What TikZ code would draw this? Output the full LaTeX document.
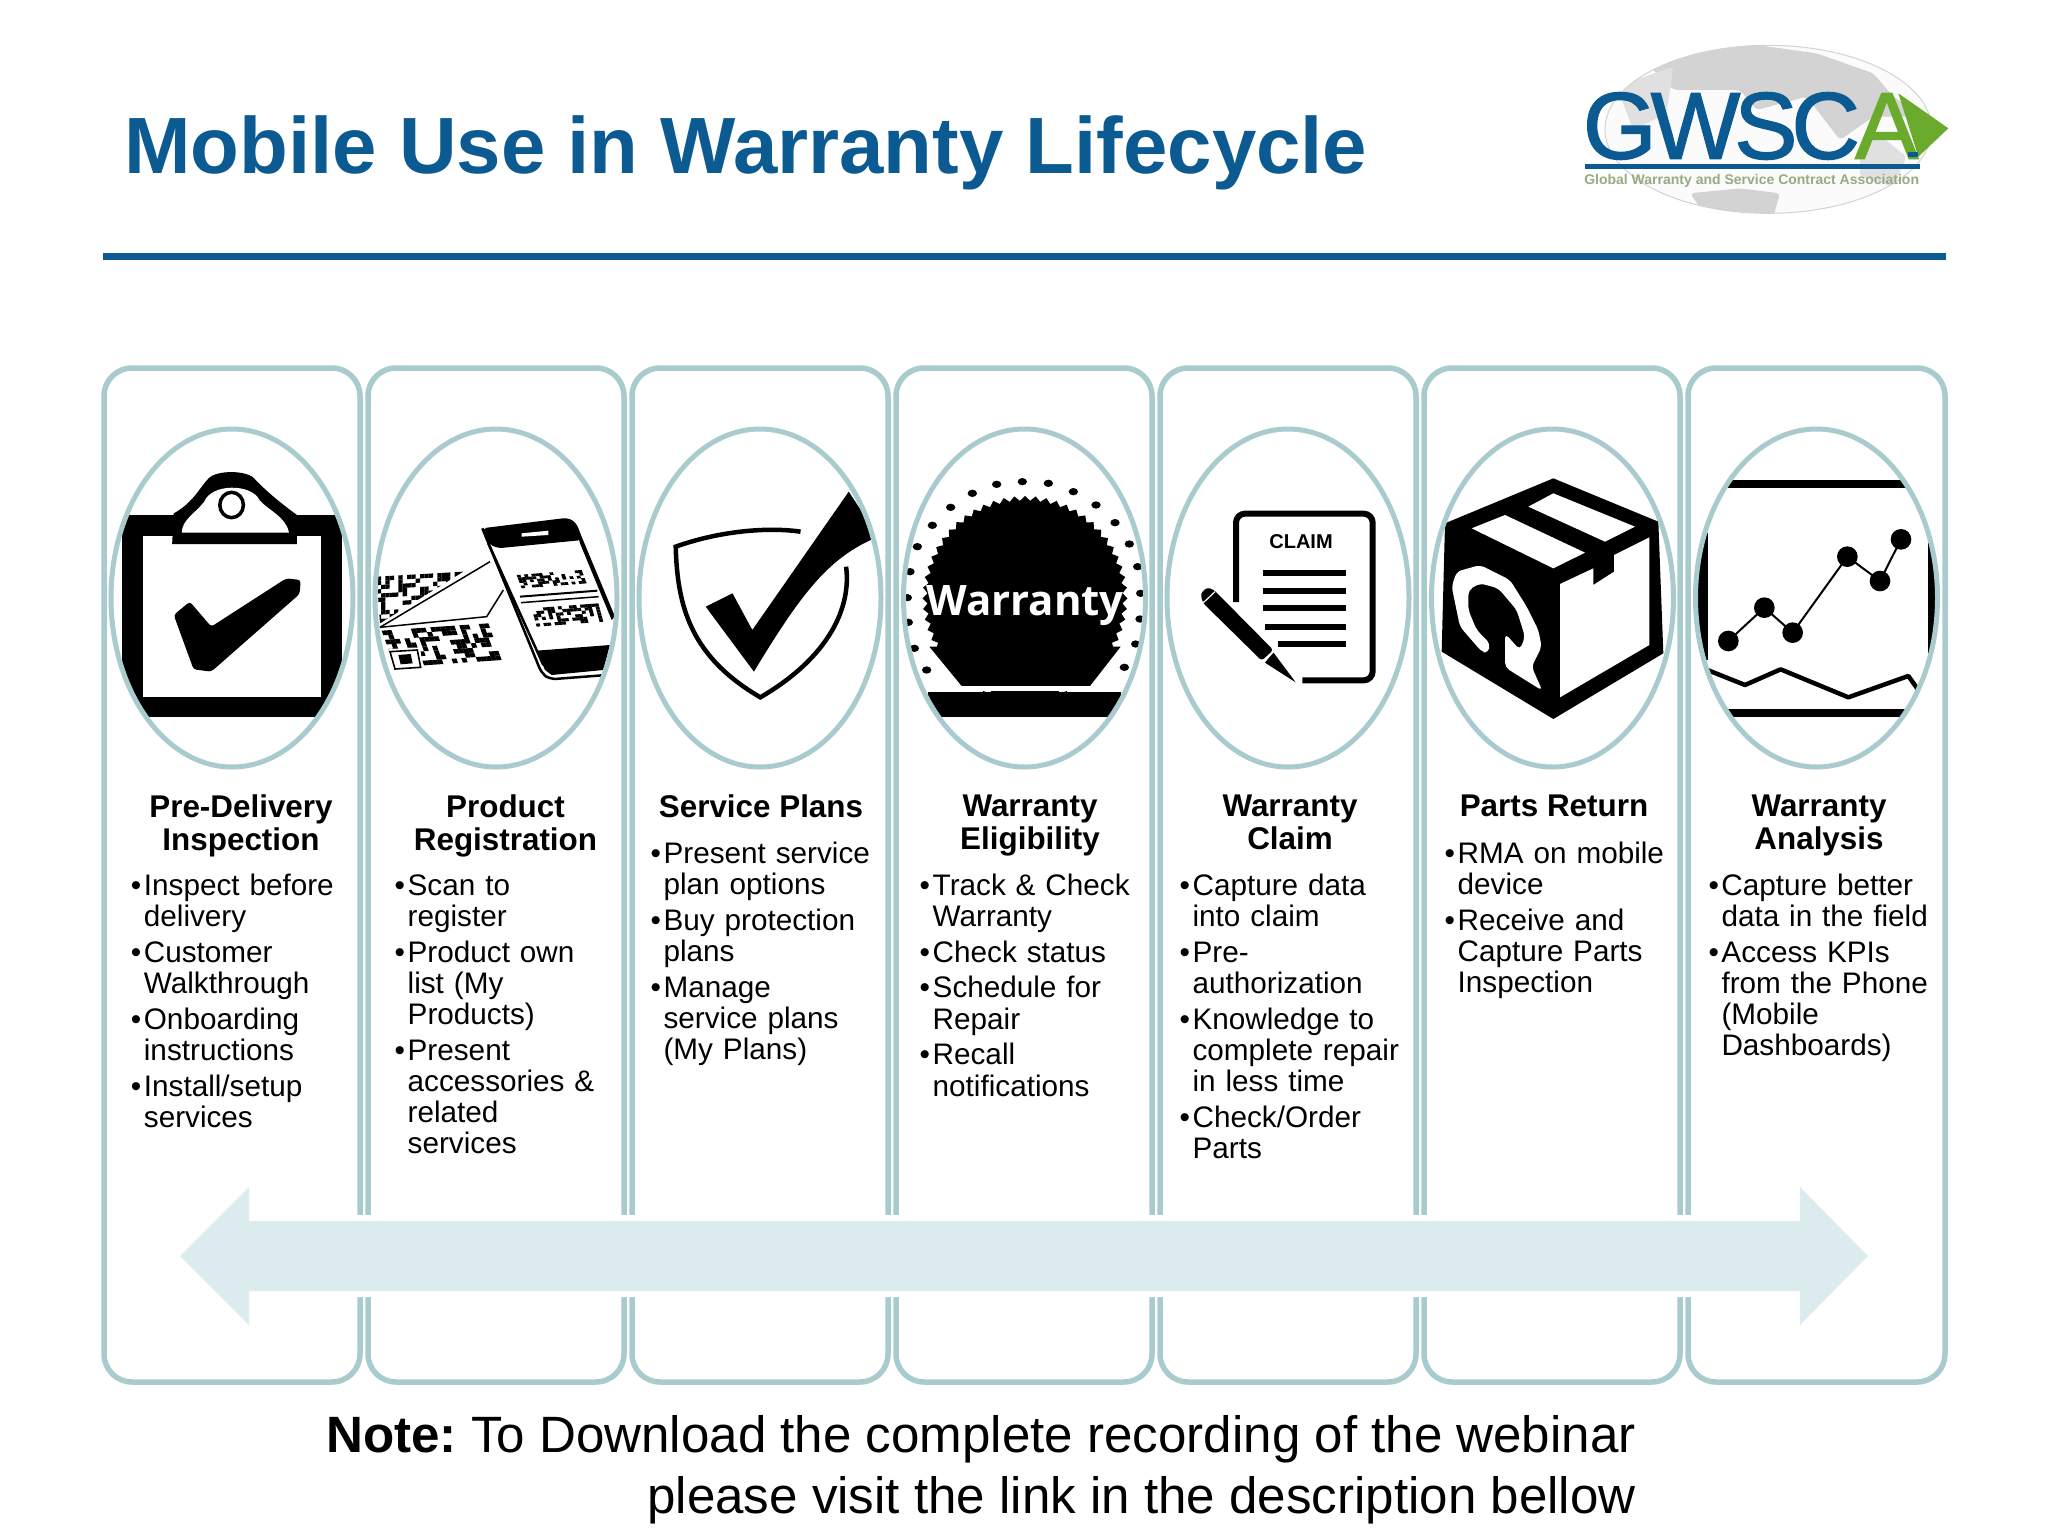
\documentclass[tikz,border=0pt]{standalone}
\usepackage{fontspec}
\usepackage{xcolor}
\usepackage{tikz}
\usetikzlibrary{shapes.geometric}
\setmainfont{Liberation Sans}
\newfontfamily\sealfont{Open Sans}
\newfontfamily\logofont[FakeBold=1.4,LetterSpace=-6.5]{Liberation Sans}

\definecolor{rimteal}{HTML}{A9CBCE}
\definecolor{bandteal}{HTML}{DCECEE}
\definecolor{titleblue}{HTML}{0B5A91}
\definecolor{logogreen}{HTML}{6AAB2E}
\definecolor{logogrey}{HTML}{D3D3D3}

\tikzset{
  colbox/.style={draw=rimteal,line width=5.5pt,rounded corners=28pt},
  oval/.style={draw=rimteal,line width=5pt},
  colhead/.style={inner sep=0pt,anchor=north,align=center,font=\fontsize{31.4}{33}\selectfont\bfseries},
  colbody/.style={inner sep=0pt,anchor=north west,text width=250pt,align=left,
    font=\fontsize{29.7}{31.2}\selectfont\setlength{\parskip}{4.6pt}},
  zoomed/.style={x=0.33333pt,y=-0.33333pt},
  widezoomed/.style={x=0.5357pt,y=-0.33333pt},
  paperline/.style={line width=6pt},
}
\newcommand{\bul}{\par\hangindent=13pt\hangafter=1\noindent\makebox[13pt][l]{\textbullet}}
% little squares of a scanned code, on a slanted patch
\newcommand{\qrpatch}[8]{%
  \foreach \ci in {1,...,#7} \foreach \cj in {1,...,#8} {
    \pgfmathtruncatemacro\cellon{rnd>0.48}
    \ifnum\cellon=1
      \fill ({#1+(\ci-1)/#7*#3+(\cj-1)/#8*#5},{#2+(\ci-1)/#7*#4+(\cj-1)/#8*#6})
        -- ({#1+\ci/#7*#3+(\cj-1)/#8*#5},{#2+\ci/#7*#4+(\cj-1)/#8*#6})
        -- ({#1+\ci/#7*#3+\cj/#8*#5},{#2+\ci/#7*#4+\cj/#8*#6})
        -- ({#1+(\ci-1)/#7*#3+\cj/#8*#5},{#2+(\ci-1)/#7*#4+\cj/#8*#6}) -- cycle;
    \fi
  }%
}

\begin{document}
\begin{tikzpicture}[x=1pt,y=-1pt]
\useasboundingbox (0,0) rectangle (2048,1536);
\fill [white] (0,0) rectangle (2048,1536);

% header
\node (title) [inner sep=0pt,anchor=base west,text=titleblue,font=\fontsize{79.8}{80}\selectfont\bfseries] at (124,174) {Mobile Use in Warranty Lifecycle};
\fill [titleblue] (103,253) rectangle (1946,259.5);

% logo
\begin{scope}[shift={(1540,30)},zoomed]
\fill [white!90!logogrey] (685,298) ellipse [x radius=490,y radius=252];
\begin{scope}
\clip (685,298) ellipse [x radius=490,y radius=252];
\fill [logogrey,rounded corners=4pt] (330,110) -- (450,60) -- (650,45) -- (830,70) -- (1000,130) -- (1060,200) -- (1150,260) -- (1000,260) -- (900,330) -- (800,200) -- (650,240) -- (600,180) -- (400,180) -- cycle;
\fill [logogrey,rounded corners=4pt] (450,490) -- (600,475) -- (720,490) -- (700,560) -- (500,560) -- cycle;
\fill [logogrey!70,rounded corners=4pt] (1000,300) -- (1100,380) -- (1060,470) -- (960,440) -- (960,360) -- cycle;
\fill [logogrey!70,rounded corners=4pt] (230,170) -- (400,110) -- (380,250) -- (280,300) -- cycle;
\end{scope}
\draw [logogrey,line width=1pt] (685,298) ellipse [x radius=490,y radius=252];
\node (logoname) [inner sep=0pt,anchor=west,text=titleblue,font=\fontsize{95}{95}\selectfont\logofont] at (128,288) {GWSC};
\fill [logogreen] (1075,190) -- (1225,295) -- (1135,380) -- cycle;
\node (logoa) [inner sep=0pt,anchor=center,text=logogreen,font=\fontsize{95}{95}\selectfont\logofont] at (1040,288) {A};
\fill [titleblue] (1105,365) rectangle (1135,382);
\fill [titleblue] (135,403) rectangle (1140,418);
\node (logotag) [inner sep=0pt,anchor=center,text=logogreen!60!black!55!white,font=\fontsize{14}{14}\selectfont\bfseries] at (635,452) {Global Warranty and Service Contract Association};
\end{scope}

% columns
\draw [colbox] (104,368) rectangle (360,1382);
\draw [colbox] (368,368) rectangle (624,1382);
\draw [colbox] (632,368) rectangle (888,1382);
\draw [colbox] (896,368) rectangle (1152,1382);
\draw [colbox] (1160,368) rectangle (1416,1382);
\draw [colbox] (1424,368) rectangle (1680,1382);
\draw [colbox] (1688,368) rectangle (1945,1382);

% band across the columns
\fill [bandteal,preaction={draw=white,line width=12pt}] (180,1256) -- (249,1187) -- (249,1221) -- (1800,1221) -- (1800,1187) -- (1868,1256) -- (1800,1325) -- (1800,1291) -- (249,1291) -- (249,1325) -- cycle;

% clipboard
\begin{scope}
\clip (232,598) ellipse [x radius=121,y radius=169];
\begin{scope}[shift={(80,340)},widezoomed]
\fill (78,525) rectangle (490,1132);
\fill [white] (117,588) rectangle (450,1072);
\fill (172,612) -- (175,520) .. controls (210,490) and (225,440) .. (240,415) .. controls (255,390) and (310,390) .. (325,415) .. controls (345,450) and (375,490) .. (405,525) -- (405,612) -- cycle;
\fill [white] (190,578) .. controls (190,540) and (215,520) .. (232,485) .. controls (245,430) and (320,430) .. (335,480) .. controls (350,510) and (385,530) .. (390,578) -- cycle;
\draw [line width=3.5pt] (283,495) ellipse [x radius=22,y radius=38];
\fill [rounded corners=3pt] (175,825) -- (205,785) -- (245,860) -- (385,715) -- (412,720) -- (410,762) -- (245,995) -- (212,988) -- cycle;
\end{scope}
\end{scope}
\draw [oval] (232,598) ellipse [x radius=121,y radius=169];

% phone and codes
\begin{scope}
\clip (496,598) ellipse [x radius=121,y radius=169];
\begin{scope}[shift={(360,420)},zoomed]
\pgfmathsetseed{11}
\begin{scope}
\clip (50,470) -- (310,455) -- (60,610) -- cycle;
\qrpatch{50}{470}{260}{-15}{0}{140}{20}{11}
\end{scope}
\draw [line width=1.5pt] (60,622) -- (390,425);
\draw [line width=1.5pt] (60,622) -- (380,590) -- (430,510);
\qrpatch{65}{632}{320}{-22}{40}{110}{22}{8}
\fill [white] (85,688) -- (180,682) -- (190,748) -- (100,752) -- cycle;
\draw [line width=1.6pt] (90,695) -- (172,690) -- (182,742) -- (105,747) -- cycle;
\fill (115,705) -- (152,702) -- (158,730) -- (122,733) -- cycle;
% the phone itself
\fill [white] (365,325) -- (640,295) -- (790,640) -- (780,760) -- (550,780) -- cycle;
\draw [line width=2.5pt,rounded corners=6pt] (367,325) -- (545,760) -- (570,778) -- (740,765);
\draw [line width=2.5pt] (385,370) -- (550,735);
\fill [rounded corners=5pt] (365,325) -- (625,293) -- (650,310) -- (668,360) -- (412,385) -- (385,370) -- cycle;
\fill [white] (485,340) -- (565,332) -- (565,345) -- (485,350) -- cycle;
\fill (645,310) -- (665,350) -- (765,590) -- (755,600) -- (660,370) -- cycle;
\fill (530,692) -- (750,675) -- (730,750) -- (575,765) -- (555,750) -- cycle;
\qrpatch{470}{465}{195}{-15}{15}{40}{18}{5}
\draw [line width=2pt] (480,530) -- (712,512);
\draw [line width=1.5pt] (483,548) -- (716,530);
\qrpatch{515}{565}{200}{-15}{15}{55}{18}{6}
\end{scope}
\end{scope}
\draw [oval] (496,598) ellipse [x radius=121,y radius=169];

% shield
\begin{scope}
\clip (760,598) ellipse [x radius=121,y radius=169];
\begin{scope}[shift={(80,340)},widezoomed]
\draw [line width=4.5pt] (1345,575) .. controls (1280,560) and (1190,575) .. (1112,620) .. controls (1115,800) and (1140,950) .. (1270,1072) .. controls (1400,950) and (1440,800) .. (1430,680);
\fill (1168,800) -- (1218,760) -- (1255,870) -- (1435,455) -- (1490,590) .. controls (1400,650) and (1350,750) .. (1258,995) -- cycle;
\end{scope}
\end{scope}
\draw [oval] (760,598) ellipse [x radius=121,y radius=169];

% warranty seal
\begin{scope}
\clip (1024.5,598) ellipse [x radius=121,y radius=169];
\begin{scope}[shift={(890,420)},zoomed]
\foreach \dotx/\doty in {320/193,397/185,475/190,550/215,618/255,675/308,718/372,743/440,752/520,750/597,737/672,703/742,110/750,73/685,55/607,52/533,60/455,82/380,127/316,182/262,247/220}
  \fill (\dotx,\doty) ellipse [x radius=14,y radius=11];
\node (seal) [star,star points=60,star point ratio=1.05,fill=black,inner sep=0pt,minimum size=205pt] at (405,535) {};
\fill (118,680) -- (215,798) -- (600,798) -- (692,680) -- cycle;
\fill [white] (60,798) rectangle (750,812);
\fill (115,815) rectangle (692,890);
\node (sealname) [inner sep=0pt,text=white,font=\fontsize{42}{42}\selectfont\sealfont\bfseries] at (405,558) {Warranty};
\end{scope}
\end{scope}
\draw [oval] (1024.5,598) ellipse [x radius=121,y radius=169];

% claim form and pen
\begin{scope}[shift={(1150,420)},zoomed]
\draw [line width=6pt,rounded corners=9pt] (258,546) -- (258,281) -- (668,281) -- (668,781) -- (457,781);
\node (claimword) [inner sep=0pt,font=\fontsize{20}{20}\selectfont\bfseries] at (453,364) {CLAIM};
\draw [paperline] (338,459) -- (588,459);
\draw [paperline] (338,512) -- (588,512);
\draw [paperline] (338,565) -- (588,565);
\draw [paperline] (345,621) -- (588,621);
\draw [paperline] (383,673) -- (588,673);
\fill [rounded corners=3pt] (152,520) -- (172,502) -- (192,510) -- (370,690) -- (335,722) -- (158,548) -- cycle;
\fill (370,697) -- (437,787) -- (345,728) -- cycle;
\draw [white,line width=1.2pt] (160,548) -- (195,515);
\draw [white,line width=1.5pt] (345,720) -- (369,696);
\end{scope}
\draw [oval] (1288,598) ellipse [x radius=121,y radius=169];

% box
\begin{scope}
\clip (1552.5,598) ellipse [x radius=121,y radius=169];
\begin{scope}[shift={(1410,420)},zoomed]
\fill (430,175) -- (745,305) -- (760,700) -- (430,897) -- (95,695) -- (105,310) -- cycle;
\fill [white] (185,325) -- (285,285) -- (525,398) -- (430,445) -- cycle;
\fill [white] (355,260) -- (430,220) -- (675,320) -- (585,365) -- cycle;
\fill [white] (450,492) -- (550,445) -- (550,495) -- (612,455) -- (612,405) -- (718,352) -- (718,675) -- (450,832) -- cycle;
\fill [white,rounded corners=5pt] (125,500) -- (140,455) -- (210,435) -- (300,480) -- (350,560) -- (385,630) -- (395,680) -- (365,740) -- (397,812) -- (285,742) -- (285,640) -- (330,690) -- (345,650) -- (320,570) -- (265,505) -- (210,490) -- (175,510) -- (175,570) -- (200,630) -- (240,670) -- (235,700) -- (215,695) -- (150,620) -- cycle;
\end{scope}
\end{scope}
\draw [oval] (1552.5,598) ellipse [x radius=121,y radius=169];

% chart
\begin{scope}
\clip (1816.5,598) ellipse [x radius=121,y radius=169];
\begin{scope}[shift={(1660,420)},zoomed]
\fill (190,181) rectangle (750,205);
\fill (190,868) rectangle (750,892);
\fill (100,340) rectangle (143,720);
\fill (803,370) rectangle (840,700);
\draw [line width=2pt] (205,663) -- (313,563) -- (398,638) -- (562,410) -- (660,483) -- (723,358);
\foreach \ptx/\pty in {205/663,313/563,398/638,562/410,660/483,723/358}
  \fill (\ptx,\pty) circle (31);
\draw [line width=4.5pt,line join=round] (130,745) -- (255,795) -- (362,748) -- (565,832) -- (745,768) -- (775,810);
\end{scope}
\end{scope}
\draw [oval] (1816.5,598) ellipse [x radius=121,y radius=169];

% column texts
\node (headone) [colhead] at (241,795) {Pre-Delivery\\Inspection};
\node (headtwo) [colhead] at (505.5,795) {Product\\Registration};
\node (headthree) [colhead] at (761,795) {Service Plans};
\node (headfour) [colhead] at (1030,795) {Warranty\\Eligibility};
\node (headfive) [colhead] at (1290,795) {Warranty\\Claim};
\node (headsix) [colhead] at (1554,795) {Parts Return};
\node (headseven) [colhead] at (1819,795) {Warranty\\Analysis};

\node (bodyone) [colbody] at (130.7,859) {\bul Inspect before\newline delivery\bul Customer\newline Walkthrough\bul Onboarding\newline instructions\bul Install/setup\newline services\par};
\node (bodytwo) [colbody] at (394.5,859) {\bul Scan to\newline register\bul Product own\newline list (My\newline Products)\bul Present\newline accessories \&\newline related\newline services\par};
\node (bodythree) [colbody] at (650.4,827) {\bul Present service\newline plan options\bul Buy protection\newline plans\bul Manage\newline service plans\newline (My Plans)\par};
\node (bodyfour) [colbody] at (919.5,859) {\bul Track \& Check\newline Warranty\bul Check status\bul Schedule for\newline Repair\bul Recall\newline notifications\par};
\node (bodyfive) [colbody] at (1179.4,859) {\bul Capture data\newline into claim\bul Pre-\newline authorization\bul Knowledge to\newline complete repair\newline in less time\bul Check/Order\newline Parts\par};
\node (bodysix) [colbody] at (1444.5,827) {\bul RMA on mobile\newline device\bul Receive and\newline Capture Parts\newline Inspection\par};
\node (bodyseven) [colbody] at (1708.3,859) {\bul Capture better\newline data in the field\bul Access KPIs\newline from the Phone\newline (Mobile\newline Dashboards)\par};

% note
\node (note) [inner sep=0pt,anchor=north east,align=right,font=\fontsize{51.1}{61}\selectfont\frenchspacing] at (1636,1415) {\textbf{Note:} To Download the complete recording of the webinar\\please visit the link in the description bellow};
\end{tikzpicture}
\end{document}
